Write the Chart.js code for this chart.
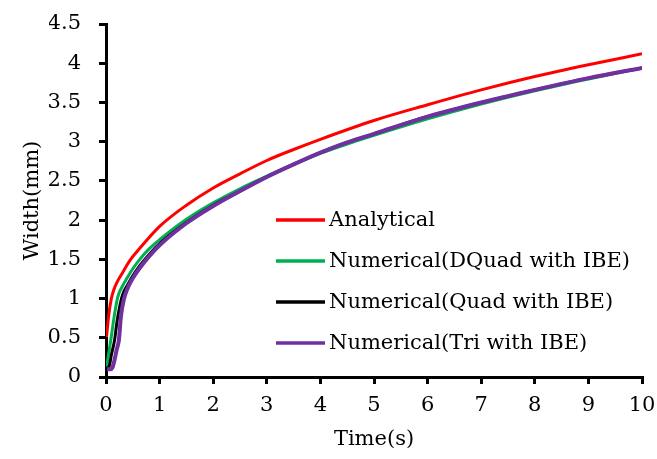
<!DOCTYPE html>
<html>
<head>
<meta charset="utf-8">
<script src="https://cdn.jsdelivr.net/npm/chart.js@4/dist/chart.umd.min.js"></script>
<style>
  html, body { margin: 0; padding: 0; background: #fff; }
  #wrap { width: 657px; height: 459px; }
</style>
</head>
<body>
<div id="wrap"><canvas id="myChart" width="657" height="459"></canvas></div>
<script>
'use strict'
// fracture width over time, one time/width pair of arrays per series
var timeAnalytical = [0.01, 0.05, 0.1, 0.15, 0.2, 0.3, 0.45, 0.63, 1, 1.5, 2, 2.5, 3, 3.5, 4, 5, 6, 7, 8, 9, 10];
var widthAnalytical = [0.51, 0.78, 1.0, 1.12, 1.2, 1.32, 1.49, 1.64, 1.92, 2.19, 2.41, 2.59, 2.76, 2.90, 3.03, 3.27, 3.47, 3.66, 3.83, 3.98, 4.12];

var timeDQuad = [0.01, 0.05, 0.1, 0.15, 0.22, 0.3, 0.4, 0.5, 0.63, 0.8, 1, 1.5, 2, 2.5, 3, 3.5, 4, 4.5, 5, 6, 7, 8, 9, 10];
var widthDQuad = [0.13, 0.30, 0.52, 0.76, 1.02, 1.15, 1.27, 1.38, 1.50, 1.63, 1.75, 2.01, 2.22, 2.40, 2.56, 2.71, 2.85, 2.97, 3.08, 3.29, 3.48, 3.65, 3.80, 3.94];

var timeQuad = [0.02, 0.06, 0.1, 0.16, 0.2, 0.25, 0.31, 0.4, 0.5, 0.63, 0.8, 1, 1.5, 2, 2.5, 3, 3.5, 4, 4.5, 5, 6, 7, 7.5, 8, 9, 10];
var widthQuad = [0.11, 0.14, 0.28, 0.47, 0.68, 0.88, 1.05, 1.17, 1.29, 1.42, 1.56, 1.70, 1.97, 2.19, 2.37, 2.55, 2.71, 2.86, 2.99, 3.10, 3.32, 3.50, 3.58, 3.66, 3.81, 3.94];

var timeTri = [0.02, 0.08, 0.12, 0.16, 0.2, 0.24, 0.28, 0.33, 0.39, 0.5, 0.63, 0.82, 1, 1.5, 2, 2.5, 3, 3.5, 4, 4.5, 5, 6, 7, 7.5, 8, 9, 10];
var widthTri = [0.10, 0.10, 0.12, 0.22, 0.35, 0.47, 0.78, 0.98, 1.11, 1.26, 1.39, 1.55, 1.68, 1.96, 2.18, 2.37, 2.55, 2.71, 2.86, 2.99, 3.10, 3.32, 3.50, 3.58, 3.66, 3.81, 3.94];

var yTickLabels = ['0', '0.5', '1', '1.5', '2', '2.5', '3', '3.5', '4', '4.5'];
var xTickLabels = ['0', '1', '2', '3', '4', '5', '6', '7', '8', '9', '10'];
var xTitle = 'Time(s)';
var yTitle = 'Width(mm)';

var seriesNames = ['Analytical', 'Numerical(DQuad with IBE)', 'Numerical(Quad with IBE)', 'Numerical(Tri with IBE)'];
var seriesColors = ['#ff0000', '#00b050', '#000000', '#7030a0'];
var seriesWidths = [3, 3, 3, 4];

var fontFamily = '"DejaVu Serif", serif';
var fontSize = 21;

function toPoints(xs, ys) {
  var pts = [];
  for (var i = 0; i < xs.length; i++) {
    pts.push({ x: xs[i], y: ys[i] });
  }
  return pts;
}

var allData = [
  toPoints(timeAnalytical, widthAnalytical),
  toPoints(timeDQuad, widthDQuad),
  toPoints(timeQuad, widthQuad),
  toPoints(timeTri, widthTri)
];

var datasets = [];
for (var i = 0; i < seriesNames.length; i++) {
  datasets.push({
    label: seriesNames[i],
    data: allData[i],
    borderColor: seriesColors[i],
    backgroundColor: seriesColors[i],
    borderWidth: seriesWidths[i],
    pointRadius: 0,
    cubicInterpolationMode: 'monotone',
    fill: false,
    // later series painted over earlier ones
    order: seriesNames.length - i
  });
}

// axis titles and the legend inside the plot, drawn by hand
var extras = {
  id: 'extras',
  afterDraw: function (chart) {
    var ctx = chart.ctx;
    var area = chart.chartArea;
    ctx.save();
    ctx.font = fontSize + 'px ' + fontFamily;
    ctx.fillStyle = '#000';
    ctx.textAlign = 'center';
    ctx.textBaseline = 'middle';
    ctx.fillText(xTitle, (area.left + area.right) / 2, area.bottom + 63);
    ctx.save();
    ctx.translate(area.left - 73, (area.top + area.bottom) / 2);
    ctx.rotate(-Math.PI / 2);
    ctx.fillText(yTitle, 0, 0);
    ctx.restore();

    var x0 = area.left + 170;
    var y0 = area.top + 196;
    var rowGap = 41;
    ctx.textAlign = 'left';
    chart.data.datasets.forEach(function (ds, k) {
      var y = y0 + k * rowGap;
      ctx.strokeStyle = ds.borderColor;
      ctx.lineWidth = 3.5;
      ctx.beginPath();
      ctx.moveTo(x0, y);
      ctx.lineTo(x0 + 49, y);
      ctx.stroke();
      ctx.fillText(ds.label, x0 + 53, y + 1);
    });
    ctx.restore();
  }
};

// fixed axis band sizes so the plot box stays put
function fitX(scale) {
  scale.height = 40;
  scale.paddingLeft = 0;
  scale.paddingRight = 0;
}
function fitY(scale) {
  scale.width = 57;
  scale.paddingTop = 0;
  scale.paddingBottom = 0;
}

var ctx = document.getElementById('myChart').getContext('2d');
var chart = new Chart(ctx, {
  type: 'line',
  data: { datasets: datasets },
  options: {
    responsive: false,
    animation: false,
    layout: { padding: { left: 49, top: 24, right: 15, bottom: 42 } },
    plugins: {
      legend: { display: false },
      tooltip: { enabled: false }
    },
    scales: {
      x: {
        type: 'linear',
        min: 0,
        max: 10,
        afterFit: fitX,
        ticks: {
          stepSize: 1, color: '#000', font: { family: fontFamily, size: fontSize }, padding: 9,
          callback: function (value, index) { return xTickLabels[index]; }
        },
        grid: { drawOnChartArea: false, drawTicks: true, tickLength: 7, color: '#000', lineWidth: 3 },
        border: { color: '#000', width: 3 }
      },
      y: {
        min: 0,
        max: 4.5,
        afterFit: fitY,
        ticks: {
          stepSize: 0.5, color: '#000', font: { family: fontFamily, size: fontSize }, padding: 18,
          callback: function (value, index) { return yTickLabels[index]; }
        },
        grid: { drawOnChartArea: false, drawTicks: true, tickLength: 7, color: '#000', lineWidth: 3 },
        border: { color: '#000', width: 3 }
      }
    }
  },
  plugins: [extras]
});
</script>
</body>
</html>
